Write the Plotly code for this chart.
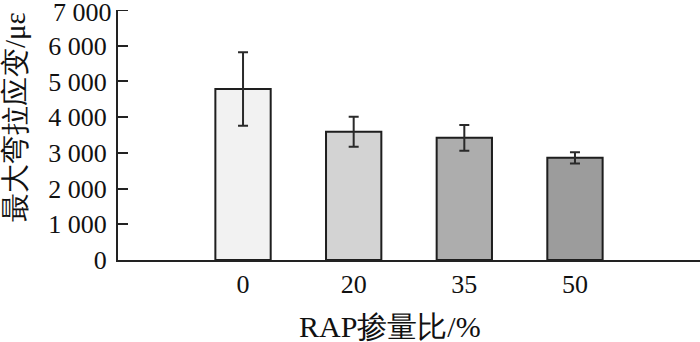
import plotly.graph_objects as go

categories = ["0", "20", "35", "50"]
values = [4790, 3590, 3420, 2860]
errors = [1030, 420, 360, 155]
bar_colors = ["#f2f2f2", "#d3d3d3", "#adadad", "#9c9c9c"]
y_tickvals = [0, 1000, 2000, 3000, 4000, 5000, 6000, 7000]
y_ticktext = ["0", "1 000", "2 000", "3 000", "4 000", "5 000", "6 000", "7 000"]
x_title = "RAP掺量比/%"
y_title = "最大弯拉应变/με"

font_family = "Liberation Serif, Times New Roman, serif"

fig = go.Figure()
fig.add_trace(go.Bar(
    x=list(range(len(categories))),
    y=values,
    width=0.5,
    marker=dict(color=bar_colors, line=dict(color="#1e1e1e", width=2)),
    error_y=dict(type="data", array=errors, visible=True, color="#2a2a2a",
                 thickness=2, width=5),
    hoverinfo="skip",
))

fig.update_layout(
    width=700, height=342,
    margin=dict(l=118, r=0, t=10, b=82),
    plot_bgcolor="white", paper_bgcolor="white",
    showlegend=False,
    font=dict(family=font_family, size=26, color="#111111"),
    xaxis=dict(
        range=[-1.13, 4.13],
        tickmode="array", tickvals=list(range(len(categories))), ticktext=categories,
        showline=True, linecolor="#222222", linewidth=2,
        ticks="", showgrid=False, zeroline=False,
        tickfont=dict(size=26, family=font_family, color="#111111"),
        automargin=False,
    ),
    yaxis=dict(
        range=[0, 7000],
        tickmode="array", tickvals=y_tickvals[:-1], ticktext=y_ticktext[:-1],
        showline=True, linecolor="#222222", linewidth=2,
        ticks="inside", ticklen=10, tickwidth=2, tickcolor="#222222",
        showgrid=False, zeroline=False,
        tickfont=dict(size=26, family=font_family, color="#111111"),
        ticklabelstandoff=4,
        automargin=False,
    ),
    annotations=[
        dict(text=x_title, x=390, y=326, xref="paper", yref="paper", showarrow=False,
             font=dict(size=30, family=font_family, color="#111111")),
        dict(text=y_title, x=15, y=117, xref="paper", yref="paper", showarrow=False,
             textangle=-90, font=dict(size=29, family=font_family, color="#111111")),
    ],
)

# convert pixel positions of annotations to paper coords
pw, ph = 700 - 118 - 0, 342 - 10 - 82
for a in fig.layout.annotations:
    px, py = a.x, a.y
    a.x = (px - 118) / pw
    a.y = 1 - (py - 10) / ph
    a.xanchor = "center"
    a.yanchor = "middle"

# top tick label and tick mark (drawn separately so it is not dropped at the edge)
fig.add_annotation(text=y_ticktext[-1], xref="paper", yref="y", x=-4 / pw,
                   y=y_tickvals[-1], xanchor="right", yanchor="middle", showarrow=False,
                   yshift=-2, font=dict(size=26, family=font_family, color="#111111"))
fig.add_shape(type="line", xref="paper", yref="y", x0=0, x1=10 / pw,
              y0=y_tickvals[-1], y1=y_tickvals[-1], line=dict(color="#222222", width=2))

fig.write_html("out.html", post_script="document.body.style.margin='0px';",
               config={"displayModeBar": False, "staticPlot": True})
